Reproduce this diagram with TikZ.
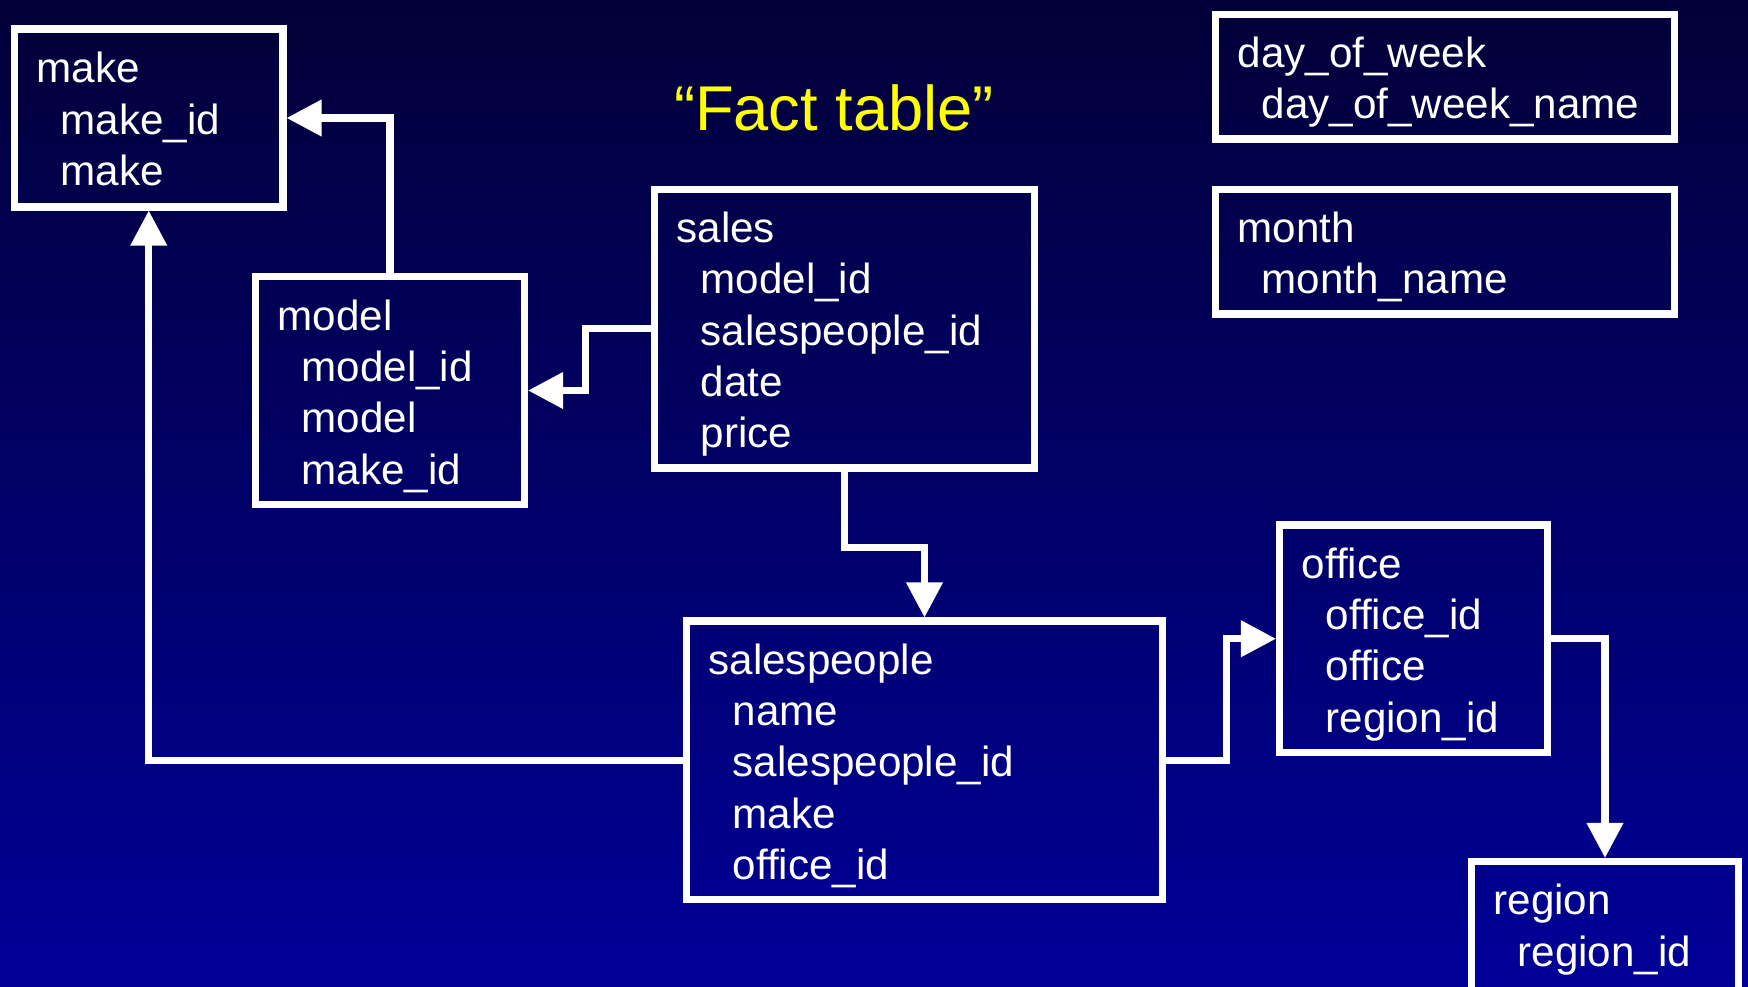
\documentclass[tikz,border=0pt]{standalone}
\usepackage{fontspec}
\setmainfont{Liberation Sans}
\usetikzlibrary{positioning,arrows.meta}

\definecolor{bgtop}{RGB}{2,0,56}
\definecolor{bgbot}{RGB}{0,0,152}
\definecolor{facty}{RGB}{255,255,0}

\newcommand{\fld}[1]{\hspace*{0.57em}#1}

\tikzset{
  tbl/.style 2 args={rectangle, draw=white, line width=2pt, text=white, align=left,
    font=\fontsize{12}{14.6}\selectfont, inner xsep=6.3pt, inner ysep=0pt, text height=11.8pt,
    minimum width=#1, minimum height=#2,
    /utils/exec={\pgfmathsetlengthmacro\tblw{#1-12.6pt}}, text width=\tblw},
  fk/.style={draw=white, line width=2pt, -{Triangle[length=10pt, width=10pt]}}
}

\begin{document}
\begin{tikzpicture}[node distance=2cm, on grid, auto]

\useasboundingbox (0,0) rectangle (17.48,-9.87);
\shade[top color=bgtop, bottom color=bgbot] (0,0) rectangle (17.48,-9.87);

\node[tbl={2.685cm}{1.78cm}, text depth=31.8pt] (make) at (1.4875,-1.18) {make\\ \fld{make\_id}\\ \fld{make}};
\node[tbl={2.69cm}{2.28cm}, below right=2.725cm and 2.4125cm of make] (model) {model\\ \fld{model\_id}\\ \fld{model}\\ \fld{make\_id}};
\node[tbl={3.8cm}{2.785cm}, above right=0.6175cm and 4.545cm of model] (sales) {sales\\ \fld{model\_id}\\ \fld{salespeople\_id}\\ \fld{date}\\ \fld{price}};
\node[tbl={4.76cm}{2.785cm}, below right=4.315cm and 0.8cm of sales] (salespeople) {salespeople\\ \fld{name}\\ \fld{salespeople\_id}\\ \fld{make}\\ \fld{office\_id}};
\node[tbl={2.68cm}{2.275cm}, above right=1.215cm and 4.89cm of salespeople] (office) {office\\ \fld{office\_id}\\ \fld{office}\\ \fld{region\_id}};
\node[tbl={2.67cm}{1.5cm}, text depth=0.846cm, below right=2.9775cm and 1.915cm of office] (region) {region\\ \fld{region\_id}};
\node[tbl={4.59cm}{1.245cm}, above right=0.77cm and 6.005cm of sales] (month) {month\\ \fld{month\_name}};
\node[tbl={4.59cm}{1.245cm}, above=1.75cm of month] (dow) {day\_of\_week\\ \fld{day\_of\_week\_name}};

\node[text=facty, font=\fontsize{18}{21}\selectfont] (fact) at (8.34,-1.08) {``Fact table''};

% foreign keys
\draw[fk] (model.north) |- (make.east);
\draw[fk] (sales.west) -- ++(-0.655,0) |- (model.east);
\draw[fk] (sales.south) -- ++(0,-0.76) -| (salespeople.north);
\draw[fk] (salespeople.west) -| (make.south);
\draw[fk] (salespeople.east) -- ++(0.605,0) |- (office.west);
\draw[fk] (office.east) -| (region.north);

\end{tikzpicture}
\end{document}
